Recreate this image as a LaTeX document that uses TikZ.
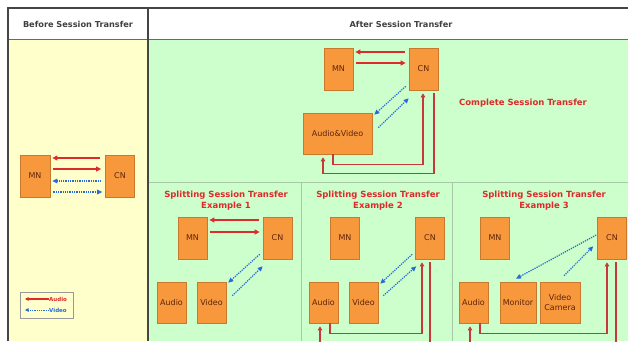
\documentclass[tikz,border=0pt]{standalone}
\usepackage{fontspec}
\setmainfont{DejaVu Sans}
\usetikzlibrary{arrows.meta}
\definecolor{yel}{HTML}{FFFFCC}
\definecolor{grn}{HTML}{CCFFCC}
\definecolor{org}{HTML}{F7983C}
\definecolor{orgd}{HTML}{C9792E}
\definecolor{brn}{HTML}{5E240C}
\definecolor{ared}{HTML}{DD2A2A}
\definecolor{lred}{HTML}{C8383A}
\definecolor{vblue}{HTML}{2A6AD6}
\definecolor{frm}{HTML}{454545}
\definecolor{divg}{HTML}{A8C8A8}
\begin{document}
\begin{tikzpicture}[x=1pt,y=-1pt,
 box/.style={draw=orgd, fill=org, line width=0.6pt, minimum width=29pt, minimum height=42pt, inner sep=0pt, text=brn, font=\fontsize{8}{9.5}\selectfont, align=center},
 aud/.style={draw=ared, line width=1.5pt, -{Triangle[length=5pt,width=4.8pt]}},
 lin/.style={draw=lred, line width=1.6pt, -{Triangle[length=4pt,width=4.5pt]}},
 vid/.style={draw=vblue, line width=1.2pt, dash pattern=on 1.3pt off 1pt, -{Triangle[length=5pt,width=4.5pt]}},
 ttl/.style={text=ared, font=\bfseries\fontsize{8.5}{11}\selectfont, align=center},
 hdr/.style={text=black!75, font=\bfseries\fontsize{8.2}{10}\selectfont},
 leg/.style={font=\bfseries\fontsize{5.5}{6}\selectfont, inner sep=0pt, anchor=west}
]
\useasboundingbox (0,0) rectangle (628,341);
\clip (0,0) rectangle (628,341);
\fill[white] (0,0) rectangle (628,341);
% panels
\fill[white] (8,8) rectangle (628,39);
\fill[yel] (8,39) rectangle (148,341);
\fill[grn] (148,39) rectangle (628,341);
\draw[divg, line width=0.8pt] (148,182) -- (628,182);
\draw[divg, line width=0.8pt] (301,182) -- (301,341);
\draw[divg, line width=0.8pt] (452,182) -- (452,341);
\draw[frm!80, line width=1pt] (8,39) -- (628,39);
\draw[frm, line width=1.5pt] (148,8) -- (148,341);
\draw[frm, line width=2pt] (8,341) -- (8,8) -- (628,8);
% headers
\node[hdr] (h1) at (78,24) {Before Session Transfer};
\node[hdr] (h2) at (401,24) {After Session Transfer};
% left panel
\node[box, minimum width=30pt] (mn0) at (35,176) {MN};
\node[box] (cn0) at (120,176) {CN};
\draw[aud] ([xshift=-5pt,yshift=18pt]cn0.west) -- ([xshift=2pt,yshift=18pt]mn0.east);
\draw[aud] ([xshift=3pt,yshift=7pt]mn0.east) -- ([xshift=-4pt,yshift=7pt]cn0.west);
\draw[vid] ([xshift=-4pt,yshift=-5pt]cn0.west) -- ([xshift=2pt,yshift=-5pt]mn0.east);
\draw[vid] ([xshift=3pt,yshift=-16pt]mn0.east) -- ([xshift=-3pt,yshift=-16pt]cn0.west);
% legend
\node[draw=black!40, line width=0.5pt, minimum width=53pt, minimum height=26pt, inner sep=0pt] (lg) at (46.5,305) {};
\node[leg, text=ared] (la) at (49,299) {Audio};
\node[leg, text=vblue] (lv) at (49,310) {Video};
\draw[draw=ared, line width=1.2pt, -{Triangle[length=3.5pt,width=3.5pt]}] (la.west) -- ++(-24,0);
\draw[draw=vblue, line width=0.9pt, dash pattern=on 1pt off 0.8pt, -{Triangle[length=3.5pt,width=3.5pt]}] (lv.west) -- ++(-24,0);
% top: complete session transfer
\node[box] (mn1) at (338.5,69) {MN};
\node[box] (cn1) at (423.5,69) {CN};
\node[box, minimum width=69pt, minimum height=41pt] (av) at (337.5,133.5) {Audio\&Video};
\node[ttl] (t0) at (523,103) {Complete Session Transfer};
\draw[aud] ([xshift=-4pt,yshift=17pt]cn1.west) -- ([xshift=2pt,yshift=17pt]mn1.east);
\draw[aud] ([xshift=3pt,yshift=6pt]mn1.east) -- ([xshift=-3pt,yshift=6pt]cn1.west);
\draw[vid] ([xshift=-3pt,yshift=4pt]cn1.south west) -- ([xshift=2pt,yshift=-2pt]av.north east);
\draw[vid] ([xshift=6pt,yshift=-15pt]av.north east) -- ([yshift=-8pt]cn1.south west);
\draw[lin] ([xshift=-4.5pt]av.south) -- ++(0,10) -| ([xshift=-0.5pt,yshift=-3pt]cn1.south);
\draw[lin] ([xshift=10.5pt,yshift=-3pt]cn1.south) -- ++(0,80) -| ([xshift=-14.5pt,yshift=-3pt]av.south);
% example 1
\node[ttl] (t1) at (226,200.5) {Splitting Session Transfer\\Example 1};
\node[box] (mn2) at (192.5,238) {MN};
\node[box] (cn2) at (277.5,238) {CN};
\node[box, minimum height=41pt] (au2) at (171.5,302.5) {Audio};
\node[box, minimum height=41pt] (vi2) at (211.5,302.5) {Video};
\draw[aud] ([xshift=-4pt,yshift=18pt]cn2.west) -- ([xshift=2pt,yshift=18pt]mn2.east);
\draw[aud] ([xshift=3pt,yshift=6pt]mn2.east) -- ([xshift=-3pt,yshift=6pt]cn2.west);
\draw[vid] ([xshift=-3pt,yshift=5pt]cn2.south west) -- ([xshift=2pt,yshift=-1pt]vi2.north east);
\draw[vid] ([xshift=6pt,yshift=-14pt]vi2.north east) -- ([yshift=-7pt]cn2.south west);
% example 2
\node[ttl] (t2) at (378,200.5) {Splitting Session Transfer\\Example 2};
\node[box] (mn3) at (345,238) {MN};
\node[box] (cn3) at (430,238) {CN};
\node[box, minimum height=41pt] (au3) at (323.5,302.5) {Audio};
\node[box, minimum height=41pt] (vi3) at (363.5,302.5) {Video};
\draw[vid] ([xshift=-3pt,yshift=5pt]cn3.south west) -- ([xshift=2pt,yshift=-2pt]vi3.north east);
\draw[vid] ([xshift=5pt,yshift=-14pt]vi3.north east) -- ([xshift=1pt,yshift=-7pt]cn3.south west);
\draw[lin] ([xshift=6.5pt]au3.south) -- ++(0,10) -| ([xshift=-8pt,yshift=-3pt]cn3.south);
\draw[lin] ([yshift=-3pt]cn3.south) -- ++(0,81) -| ([xshift=-3.5pt,yshift=-3pt]au3.south);
% example 3
\node[ttl] (t3) at (544,200.5) {Splitting Session Transfer\\Example 3};
\node[box] (mn4) at (495,238) {MN};
\node[box] (cn4) at (612,238) {CN};
\node[box, minimum height=41pt] (au4) at (473.5,302.5) {Audio};
\node[box, minimum width=36pt, minimum height=41pt] (mo4) at (518,302.5) {Monitor};
\node[box, minimum width=40pt, minimum height=41pt] (vc4) at (560,302.5) {Video\\Camera};
\draw[vid] ([xshift=-1pt,yshift=3pt]cn4.west) -- ([xshift=-2pt,yshift=3pt]mo4.north);
\draw[vid] ([xshift=4pt,yshift=6pt]vc4.north) -- ([xshift=-4pt,yshift=13pt]cn4.south west);
\draw[lin] ([xshift=6.5pt]au4.south) -- ++(0,10) -| ([xshift=-5pt,yshift=-3pt]cn4.south);
\draw[lin] ([xshift=4pt,yshift=-3pt]cn4.south) -- ++(0,81) -| ([xshift=-3.5pt,yshift=-3pt]au4.south);
\end{tikzpicture}
\end{document}
